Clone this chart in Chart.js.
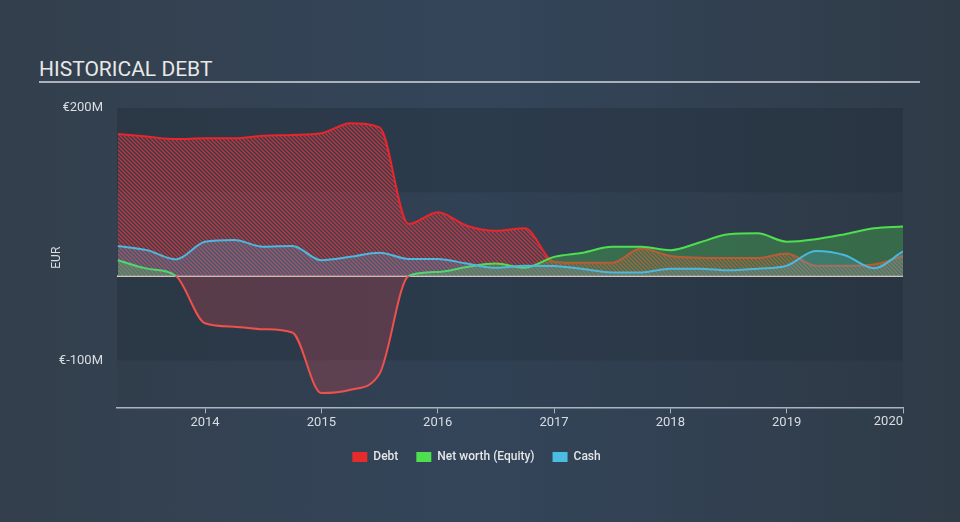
<!DOCTYPE html>
<html>
<head>
<meta charset="utf-8">
<title>Historical Debt</title>
<script src="https://cdn.jsdelivr.net/npm/chart.js@4.4.0/dist/chart.umd.min.js"></script>
<style>
	body { margin:0; width:960px; height:522px; overflow:hidden;
		background: linear-gradient(to right, #333f4c 0%, #34455a 50%, #2f3b47 100%);
		font-family: Roboto, sans-serif; }
	#title { position:absolute; left:39px; top:57px; font-size:21px; line-height:24px; color:#e8e8e8; }
	#rule { position:absolute; left:39px; top:81px; width:881px; height:2px; background:#a9b1ba; }
	#chart { position:absolute; left:0; top:0; }
</style>
</head>
<body>
<div id="title">HISTORICAL DEBT</div>
<div id="rule"></div>
<canvas id="chart" width="960" height="522"></canvas>

<script>
// quarter ends
let dates = ['2013-03','2013-06','2013-09','2013-12','2014-03','2014-06','2014-09','2014-12',
	'2015-03','2015-06','2015-09','2015-12','2016-03','2016-06','2016-09','2016-12',
	'2017-03','2017-06','2017-09','2017-12','2018-03','2018-06','2018-09','2018-12',
	'2019-03','2019-06','2019-09','2019-12']

// EUR millions
let debt = [169,166,163,164,164,167,168,170,182,177,62,76,60,54,57,17,
	16,16,33,24,22,21.5,21.5,27,12.5,12.5,14,24]
let equity = [19,9,0.3,-56,-60,-63,-67,-139,-135,-116,0.3,5,11,15,10,23,
	28,35,35,31,40,50,51,41,44,50,57,59]
let cash = [36,31,20,41,43,35,36,19,23,28,20.5,20.5,15,10,12.5,12,
	8.5,4.5,4.5,9,9,7,9,12.5,30,25,9.5,29.5]

let yearTicks = [2014,2015,2016,2017,2018,2019,2020]
let yTicks = [200,100,0,-100]
let yLabels = [200,-100]

let seriesNames = ['Debt','Net worth (Equity)','Cash']
let legendColors = ['#e52b2b','#4ddf4d','#4bbde0']

let tickFont = {family:'Roboto', size:13}
let tickColor = '#d8dde2'

function toYear(d){
	let p = d.split('-')
	return Number(p[0]) + Number(p[1])/12
}
function points(vals){
	return vals.map((v,i) => ({x: toYear(dates[i]), y: v}))
}

// hatch pattern for debt area
let tile = document.createElement('canvas')
tile.width = 4; tile.height = 4
let tc = tile.getContext('2d')
tc.fillStyle = 'rgba(120,60,70,0.25)'
tc.fillRect(0,0,4,4)
tc.strokeStyle = 'rgba(225,60,65,0.75)'
tc.lineWidth = 1.3
tc.beginPath()
tc.moveTo(-1,-1); tc.lineTo(5,5)
tc.moveTo(-1,3); tc.lineTo(1,5)
tc.moveTo(3,-1); tc.lineTo(5,1)
tc.stroke()
let hatch = tc.createPattern(tile,'repeat')

function equityLine(ctx){
	let chart = ctx.chart
	let area = chart.chartArea
	if (!area) return '#4ddf4d'
	let y0 = chart.scales.y.getPixelForValue(0)
	let f = (y0 - area.top)/(area.bottom - area.top)
	let g = chart.ctx.createLinearGradient(0, area.top, 0, area.bottom)
	g.addColorStop(0,'#4ddf4d')
	g.addColorStop(f,'#4ddf4d')
	g.addColorStop(f,'#f0504c')
	g.addColorStop(1,'#f0504c')
	return g
}

let bands = {
	id:'bands',
	beforeDraw(chart){
		let c = chart.ctx, a = chart.chartArea, y = chart.scales.y
		c.save()
		for (let i=0; i<yTicks.length; i++){
			let top = y.getPixelForValue(yTicks[i])
			let bot = i+1 < yTicks.length ? y.getPixelForValue(yTicks[i+1]) : a.bottom
			c.fillStyle = (i%2==0) ? 'rgba(30,40,52,0.35)' : 'rgba(30,40,52,0.12)'
			c.fillRect(a.left, top, a.right-a.left, bot-top)
		}
		c.restore()
	},
	beforeDatasetsDraw(chart){
		let c = chart.ctx, a = chart.chartArea
		let y0 = chart.scales.y.getPixelForValue(0)
		c.save()
		c.strokeStyle = '#e8e2e2'
		c.lineWidth = 1.5
		c.beginPath()
		c.moveTo(a.left, y0); c.lineTo(a.right, y0)
		c.stroke()
		c.restore()
	},
	afterDraw(chart){
		// last year label sits to the left of its tick
		let x = chart.scales.x
		let last = yearTicks[yearTicks.length-1]
		let c = chart.ctx
		c.save()
		c.font = '13px Roboto'
		c.fillStyle = tickColor
		c.textAlign = 'right'
		c.textBaseline = 'middle'
		c.fillText(String(last), x.getPixelForValue(last), x.top + 14)
		c.restore()
	}
}

let ctx = document.getElementById('chart')
let myChart = new Chart(ctx, {
	type:'line',
	data:{
		datasets:[
			{label:seriesNames[0], data:points(debt), borderColor:'#e8262b', backgroundColor:hatch,
				fill:'origin', order:3},
			{label:seriesNames[1], data:points(equity), borderColor:equityLine,
				fill:{target:'origin', above:'rgba(76,217,76,0.3)', below:'rgba(215,70,80,0.27)'}, order:2},
			{label:seriesNames[2], data:points(cash), borderColor:'#4bb8e0', backgroundColor:'rgba(80,180,230,0.22)',
				fill:'origin', order:1}
		]
	},
	options:{
		responsive:false,
		animation:false,
		layout:{padding:{left:50, right:57, top:108, bottom:49}},
		elements:{
			line:{borderWidth:2, cubicInterpolationMode:'monotone'},
			point:{radius:0}
		},
		scales:{
			x:{
				type:'linear', min:2013.243, max:2020,
				afterBuildTicks: s => { s.ticks = yearTicks.map(v => ({value:v})) },
				grid:{drawOnChartArea:false, drawTicks:true, tickLength:6, color:'#aab4c0'},
				border:{display:true, color:'#aab4c0', width:1.5},
				ticks:{color:tickColor, font:tickFont, padding:2, maxRotation:0,
					callback: v => v == yearTicks[yearTicks.length-1] ? '' : String(v)}
			},
			y:{
				min:-156, max:200,
				afterBuildTicks: s => { s.ticks = yTicks.map(v => ({value:v})) },
				afterFit: s => { s.width = 67 },
				grid:{display:false, drawTicks:false},
				border:{display:false},
				title:{display:true, text:'EUR', color:tickColor, font:{family:'Roboto', size:12}, padding:0},
				ticks:{color:tickColor, font:tickFont, padding:14,
					callback: v => yLabels.includes(v) ? '€' + v + 'M' : ''}
			}
		},
		plugins:{
			legend:{
				position:'bottom',
				labels:{
					color:'#e4e6e8', font:{family:'Roboto', size:12, weight:'500'},
					boxWidth:15, boxHeight:10, padding:18,
					generateLabels: chart => seriesNames.map((n,i) => ({
						text:n, fillStyle:legendColors[i], strokeStyle:legendColors[i], lineWidth:0,
						datasetIndex:i, fontColor:'#e4e6e8'
					}))
				}
			},
			tooltip:{enabled:false}
		}
	},
	plugins:[bands]
})
</script>
</body>
</html>
